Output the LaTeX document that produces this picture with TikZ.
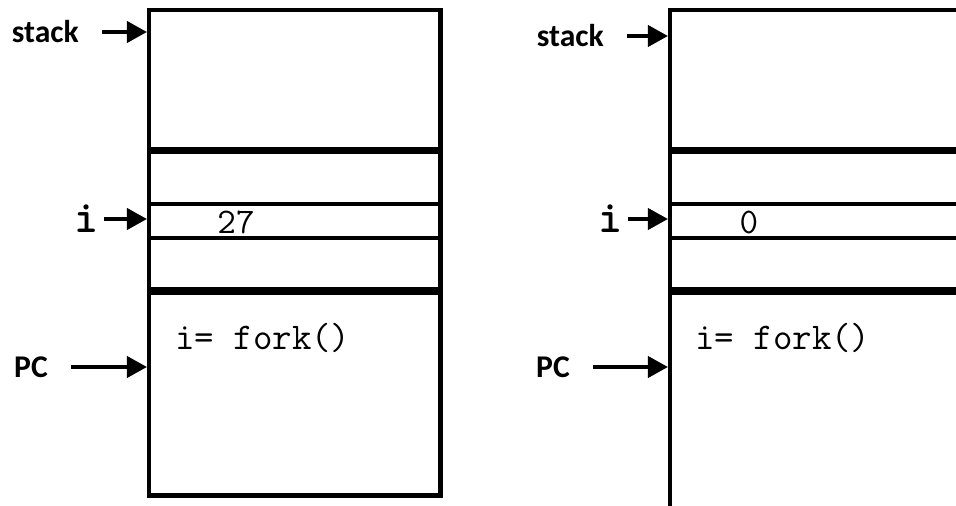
\documentclass[tikz,border=0pt]{standalone}
\usepackage{fontspec}
\setsansfont{Carlito}
\usetikzlibrary{arrows.meta,positioning}

\begin{document}
\begin{tikzpicture}[x=0.02cm,y=-0.02cm,>={Triangle[length=11.5pt,width=12pt]},
    frame/.style={line width=2.5pt},
    thin/.style={line width=2.5pt},
    heavy/.style={line width=4.3pt},
    pointer/.style={->,line width=2.4pt},
    lbl/.style={font=\sffamily\bfseries\fontsize{18}{20}\selectfont,inner ysep=0pt,inner xsep=13pt,anchor=east},
    var/.style={font=\ttfamily\bfseries\fontsize{26}{28}\selectfont,inner ysep=0pt,inner xsep=3pt,anchor=east},
    val/.style={font=\ttfamily\fontsize{20.5}{22}\selectfont,inner sep=0pt},
    code/.style={font=\ttfamily\fontsize{21.5}{24}\selectfont,inner sep=0pt,anchor=base west}]

    \useasboundingbox (0,0) rectangle (956,506);
    \clip (0,0) rectangle (956,506);

    % parent: address space
    \draw[frame] (149,10) rectangle (440.5,495.5);
    \foreach \y/\w in {150.5/heavy, 204/thin, 238/thin, 291/heavy}
        {
        \draw[\w] (149,\y) -- (440.5,\y);
        }

    % child: same layout, runs off the page
    \draw[frame] (670,10) rectangle (990,530);
    \foreach \y/\w in {150.5/heavy, 204/thin, 238/thin, 291/heavy}
        {
        \draw[\w] (670,\y) -- (990,\y);
        }

    % labels
    \node[lbl] (stackl) at (102,32) {stack};
    \node[var] (il) at (104,219) {i};
    \node[lbl] (pcl) at (71,367) {PC};

    \node[lbl] (stackr) at (627,36) {stack};
    \node[var] (ir) at (628,219) {i};
    \node[lbl] (pcr) at (593,367) {PC};

    % contents
    \node[val] (vl) at (236,222) {27};
    \node[code] (cl) at (175,349) {i= fork()};

    \node[val] (vr) at (749,222) {0};
    \node[code] (cr) at (695,349) {i= fork()};

    % arrow ends on the box edges
    \coordinate (stackl-tip) at (147,32);
    \coordinate (il-tip) at (147,219);
    \coordinate (pcl-tip) at (147,367);
    \coordinate (stackr-tip) at (668,36);
    \coordinate (ir-tip) at (668,219);
    \coordinate (pcr-tip) at (668,367);

    \foreach \from in {stackl, il, pcl, stackr, ir, pcr}
        {
        \draw[pointer] (\from) -- (\from-tip);
        }

\end{tikzpicture}
\end{document}
